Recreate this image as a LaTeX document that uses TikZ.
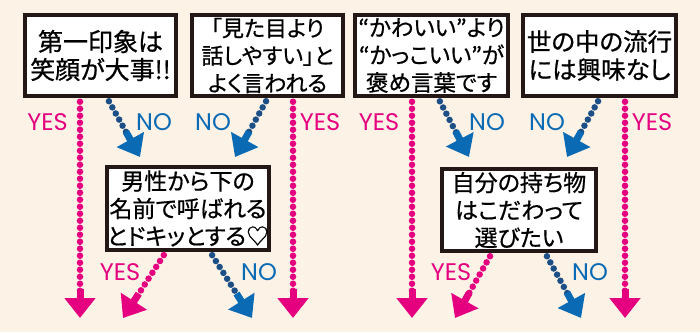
\documentclass[tikz,border=0pt]{standalone}
\usepackage{fontspec}
\setmainfont{Noto Sans CJK JP}[RawFeature=+palt, FakeBold=0.7]
\newfontfamily\yesnofont{Poppins}
\usetikzlibrary{arrows.meta}
\definecolor{bgcream}{HTML}{FDF2E6}
\definecolor{yespink}{HTML}{E4007F}
\definecolor{noblue}{HTML}{0A6AB4}
\definecolor{nodots}{HTML}{1B4F86}
\definecolor{boxline}{HTML}{231815}

\begin{document}
\begin{tikzpicture}[x=1pt, y=-1pt,
  qbox/.style={draw=boxline, line width=3.5pt, fill=white, align=center,
    minimum width=151pt, minimum height=81pt, inner sep=0pt,
    font=\fontsize{23}{27.5}\selectfont},
  yesarrow/.style={draw=yespink, line width=6.5pt, line cap=round,
    dash pattern=on 0pt off 7pt, shorten <=4pt,
    -{Rectangle[length=10pt,width=7pt,sep=-1pt]Triangle[width=30pt,length=20pt]}},
  noarrow/.style={draw=nodots, line width=6.5pt, line cap=round,
    dash pattern=on 0pt off 7pt, shorten <=4pt,
    -{Rectangle[length=10pt,width=7pt,sep=-1pt,color=noblue]Triangle[width=30pt,length=20pt,color=noblue]}},
  yeslabel/.style={text=yespink, font=\yesnofont\fontsize{24}{24}\selectfont},
  nolabel/.style={text=noblue, font=\yesnofont\fontsize{24}{24}\selectfont}]
\fill[bgcream] (0,0) rectangle (700,332);
\useasboundingbox (0,0) rectangle (700,332);

\node[qbox, font=\fontsize{25}{28}\selectfont] (1) at (100.5, 55.5) {第一印象は\\笑顔が大事!!};
\node[qbox, font=\fontsize{22}{27.5}\selectfont] (2) at (267.5, 55.5) {「見た目より\\話しやすい」と\\よく言われる};
\node[qbox, minimum width=153pt, font=\fontsize{22.5}{27.5}\selectfont] (3) at (431.5, 55.5) {“かわいい”より\\“かっこいい”が\\褒め言葉です};
\node[qbox, minimum width=153pt, font=\fontsize{24.5}{28}\selectfont] (4) at (599.5, 55.5) {世の中の流行\\には興味なし};
\node[qbox, minimum width=154pt, minimum height=83pt] (5) at (188, 208.5) {男性から下の\\名前で呼ばれる\\とドキッとする♡};
\node[qbox, minimum width=154pt, minimum height=82pt] (6) at (519, 210) {自分の持ち物\\はこだわって\\選びたい};

\coordinate (t1) at (80, 318);
\coordinate (t2) at (140, 157);
\coordinate (t3) at (235, 157);
\coordinate (t4) at (293, 318);
\coordinate (t5) at (412, 318);
\coordinate (t6) at (469, 157);
\coordinate (t7) at (567, 157);
\coordinate (t8) at (625, 318);
\coordinate (t9) at (123, 318);
\coordinate (t10) at (252, 318);
\coordinate (t11) at (455, 318);
\coordinate (t12) at (581, 318);

\draw[yesarrow] (1.south -| t1) -- (t1);
\draw[noarrow] ([xshift=6.5pt]1.south) -- (t2);
\draw[noarrow] ([xshift=0.5pt]2.south) -- (t3);
\draw[yesarrow] (2.south -| t4) -- (t4);
\draw[yesarrow] (3.south -| t5) -- (t5);
\draw[noarrow] ([xshift=6.5pt]3.south) -- (t6);
\draw[noarrow] ([xshift=0.5pt]4.south) -- (t7);
\draw[yesarrow] (4.south -| t8) -- (t8);
\draw[yesarrow] ([xshift=-22pt]5.south) -- (t9);
\draw[noarrow] ([xshift=22pt]5.south) -- (t10);
\draw[yesarrow] ([xshift=-27pt]6.south) -- (t11);
\draw[noarrow] ([xshift=26pt]6.south) -- (t12);

\node[yeslabel] (y1) at (47.5, 122) {YES};
\node[nolabel] (n1) at (154, 122) {NO};
\node[nolabel] (n2) at (213, 122) {NO};
\node[yeslabel] (y2) at (320, 122) {YES};
\node[yeslabel] (y3) at (379, 122) {YES};
\node[nolabel] (n3) at (487, 122) {NO};
\node[nolabel] (n4) at (547, 122) {NO};
\node[yeslabel] (y4) at (652, 122) {YES};
\node[yeslabel] (y5) at (120, 272) {YES};
\node[nolabel] (n5) at (259, 272) {NO};
\node[yeslabel] (y6) at (451, 272) {YES};
\node[nolabel] (n6) at (590, 272) {NO};
\end{tikzpicture}
\end{document}
